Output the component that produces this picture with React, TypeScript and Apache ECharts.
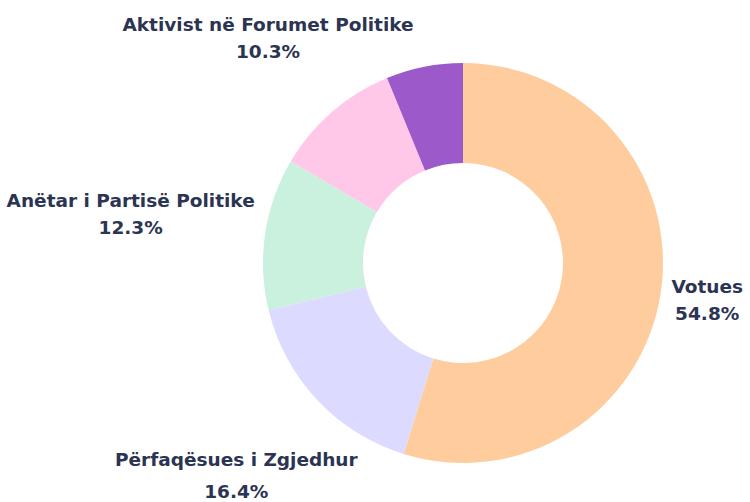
import React, { useEffect, useRef } from "react";
import * as echarts from "echarts";

const categories = [
  "Votues",
  "Përfaqësues i Zgjedhur",
  "Anëtar i Partisë Politike",
  "Aktivist në Forumet Politike",
  "Tjetër",
];
const values = [54.8, 16.4, 12.3, 10.3, 6.2];
const colors = ["#FFCC9E", "#DCDAFF", "#CAF0DE", "#FFC7E8", "#9B59CA"];
const showLabel = [true, true, true, true, false];

// layout: distance of each label's centre from the pie centre (px) and line heights
const labelDistance = [247, 311, 336, 298, 0];
const labelLineHeight = [27, 32, 27, 27, 27];
const CX = 463;
const CY = 263;

export default function App() {
  const ref = useRef<HTMLDivElement>(null);
  useEffect(() => {
    document.body.style.margin = "0";
    const chart = echarts.init(ref.current!, undefined, { renderer: "svg" });
    const total = values.reduce((a, b) => a + b, 0);
    const mids: number[] = [];
    let acc = 0;
    values.forEach((v) => {
      mids.push(((acc + v / 2) / total) * Math.PI * 2);
      acc += v;
    });
    chart.setOption({
      animation: false,
      backgroundColor: "#ffffff",
      series: [
        {
          type: "pie",
          center: [CX, CY],
          radius: [100, 200],
          startAngle: 90,
          clockwise: true,
          avoidLabelOverlap: false,
          data: categories.map((name, i) => ({
            name,
            value: values[i],
            itemStyle: { color: colors[i] },
            label: { show: showLabel[i], lineHeight: labelLineHeight[i] },
          })),
          label: {
            show: true,
            position: "outside",
            formatter: (p: any) => `${p.name}\n${Number(p.value).toFixed(1)}%`,
            fontFamily: "'DejaVu Sans', sans-serif",
            fontWeight: 700,
            fontSize: 18.5,
            lineHeight: 27,
            color: "#2B3452",
            align: "center",
          },
          labelLine: { show: false },
          labelLayout: (params: any) => {
            const i = params.dataIndex;
            const a = mids[i];
            const d = labelDistance[i];
            return {
              x: CX + Math.sin(a) * d,
              y: CY - Math.cos(a) * d,
              align: "center",
              verticalAlign: "middle",
            };
          },
        },
      ],
    });
    return () => chart.dispose();
  }, []);
  return <div ref={ref} style={{ width: 750, height: 502 }} />;
}
